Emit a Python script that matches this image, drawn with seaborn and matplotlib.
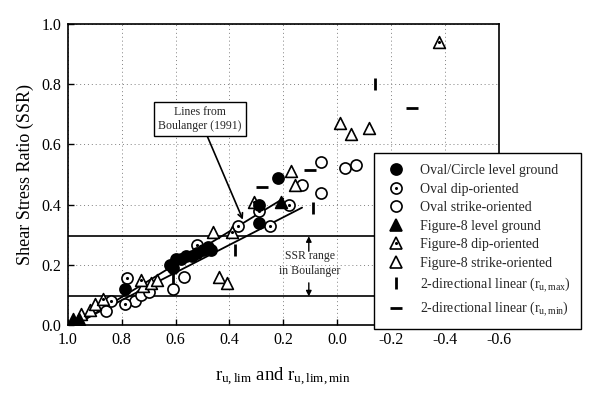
import matplotlib
matplotlib.use("Agg")
import matplotlib.pyplot as plt
import seaborn as sns
import pandas as pd
from matplotlib.lines import Line2D

# ---------------- data ----------------
oval_level_x = [0.79, 0.62, 0.61, 0.60, 0.58, 0.56, 0.54, 0.52, 0.50, 0.48, 0.47, 0.29, 0.29, 0.22]
oval_level_y = [0.12, 0.20, 0.19, 0.22, 0.22, 0.23, 0.23, 0.24, 0.25, 0.26, 0.25, 0.34, 0.40, 0.49]

oval_dip_x = [0.84, 0.79, 0.78, 0.52, 0.37, 0.29, 0.25, 0.18]
oval_dip_y = [0.08, 0.07, 0.155, 0.265, 0.33, 0.38, 0.33, 0.40]

oval_strike_x = [0.86, 0.75, 0.73, 0.70, 0.61, 0.57, 0.13, 0.06, 0.06, -0.03, -0.07]
oval_strike_y = [0.045, 0.08, 0.10, 0.11, 0.12, 0.16, 0.465, 0.54, 0.44, 0.52, 0.53]

fig8_level_x = [0.98, 0.96, 0.21]
fig8_level_y = [0.02, 0.02, 0.41]

fig8_dip_x = [0.87, 0.73, 0.39, 0.31, -0.38]
fig8_dip_y = [0.085, 0.15, 0.31, 0.41, 0.94]

fig8_strike_x = [0.95, 0.92, 0.90, 0.72, 0.69, 0.67, 0.46, 0.44, 0.41, 0.17, 0.155, -0.01, -0.05, -0.12]
fig8_strike_y = [0.035, 0.05, 0.07, 0.13, 0.14, 0.15, 0.31, 0.16, 0.14, 0.51, 0.465, 0.67, 0.635, 0.655]

lin_max_x = [0.61, 0.38, 0.09, -0.14]
lin_max_y = [0.155, 0.25, 0.39, 0.80]

lin_min_x = [0.28, 0.10, -0.28]
lin_min_y = [0.46, 0.515, 0.72]

boul_upper_x = [0.97, 0.20]
boul_upper_y = [0.0, 0.42]
boul_lower_x = [0.98, 0.13]
boul_lower_y = [0.0, 0.39]

ssr_range = [0.295, 0.095]

x_ticks = [1.0, 0.8, 0.6, 0.4, 0.2, 0.0, -0.2, -0.4, -0.6]
y_ticks = [0.0, 0.2, 0.4, 0.6, 0.8, 1.0]

legend_labels = [
    "Oval/Circle level ground",
    "Oval dip-oriented",
    "Oval strike-oriented",
    "Figure-8 level ground",
    "Figure-8 dip-oriented",
    "Figure-8 strike-oriented",
    r"2-directional linear ($\mathregular{r_{u,max}}$)",
    r"2-directional linear ($\mathregular{r_{u,min}}$)",
]

# ---------------- style ----------------
sns.set_theme(style="white")
plt.rcParams["font.family"] = ["Liberation Serif", "DejaVu Serif"]
plt.rcParams["mathtext.fontset"] = "stix"

fig = plt.figure(figsize=(5.91, 3.97), dpi=100)
ax = fig.add_axes([68 / 591, 1 - 325 / 397, (498.5 - 68) / 591, (325 - 24) / 397])

# grid
ax.set_xticks(x_ticks)
ax.set_yticks(y_ticks)
ax.grid(True, linestyle=(0, (1, 3)), color="0.5", linewidth=0.7)

# Boulanger range lines
for yv in ssr_range:
    ax.axhline(yv, color="black", lw=1.2, zorder=2)

# Boulanger trend lines
sns.lineplot(x=boul_upper_x, y=boul_upper_y, color="black", lw=1.3, sort=False, ax=ax, zorder=2)
sns.lineplot(x=boul_lower_x, y=boul_lower_y, color="black", lw=1.3, sort=False, ax=ax, zorder=2)

S = 64
EW = 1.2
def pts(x, y):
    return pd.DataFrame({"x": x, "y": y})

sns.scatterplot(data=pts(oval_strike_x, oval_strike_y), x="x", y="y", marker="o", s=S,
                color="white", edgecolor="black", linewidth=EW, ax=ax, zorder=3)
sns.scatterplot(data=pts(fig8_strike_x, fig8_strike_y), x="x", y="y", marker="^", s=S + 8,
                color="white", edgecolor="black", linewidth=EW, ax=ax, zorder=3)
sns.scatterplot(data=pts(oval_dip_x, oval_dip_y), x="x", y="y", marker="o", s=S,
                color="white", edgecolor="black", linewidth=EW, ax=ax, zorder=4)
sns.scatterplot(data=pts(oval_dip_x, oval_dip_y), x="x", y="y", marker="o", s=5,
                color="black", edgecolor="black", linewidth=0, ax=ax, zorder=4)
sns.scatterplot(data=pts(fig8_dip_x, fig8_dip_y), x="x", y="y", marker="^", s=S + 8,
                color="white", edgecolor="black", linewidth=EW, ax=ax, zorder=4)
sns.scatterplot(data=pts(fig8_dip_x, fig8_dip_y), x="x", y="y", marker="o", s=5,
                color="black", edgecolor="black", linewidth=0, ax=ax, zorder=4)
sns.scatterplot(data=pts(oval_level_x, oval_level_y), x="x", y="y", marker="o", s=S,
                color="black", edgecolor="black", linewidth=EW, ax=ax, zorder=5)
sns.scatterplot(data=pts(fig8_level_x, fig8_level_y), x="x", y="y", marker="^", s=S + 8,
                color="black", edgecolor="black", linewidth=EW, ax=ax, zorder=5)
sns.scatterplot(data=pts(lin_max_x, lin_max_y), x="x", y="y", marker="|", s=70,
                color="black", linewidth=2.0, ax=ax, zorder=5)
sns.scatterplot(data=pts(lin_min_x, lin_min_y), x="x", y="y", marker="_", s=70,
                color="black", linewidth=2.0, ax=ax, zorder=5)

# annotations
ax.annotate("Lines from\nBoulanger (1991)", xy=(0.35, 0.35), xytext=(0.51, 0.685),
            ha="center", va="center", fontsize=8.5, linespacing=1.2,
            bbox=dict(boxstyle="square,pad=0.35", fc="white", ec="black", lw=1.0),
            arrowprops=dict(arrowstyle="->", color="black", lw=1.2, shrinkA=0, shrinkB=0),
            zorder=6)
ax.text(0.10, 0.205, "SSR range\nin Boulanger", ha="center", va="center", fontsize=8.5,
        linespacing=1.3, zorder=6)
ax.annotate("", xy=(0.105, ssr_range[0]), xytext=(0.105, 0.245),
            arrowprops=dict(arrowstyle="-|>", color="black", lw=1.0, mutation_scale=8,
                            shrinkA=0, shrinkB=0))
ax.annotate("", xy=(0.105, ssr_range[1]), xytext=(0.105, 0.14),
            arrowprops=dict(arrowstyle="-|>", color="black", lw=1.0, mutation_scale=8,
                            shrinkA=0, shrinkB=0))

# axes
ax.set_xlim(1.0, -0.6)
ax.set_ylim(0.0, 1.0)
ax.set_xticklabels([f"{v:.1f}" for v in x_ticks])
ax.set_yticklabels([f"{v:.1f}" for v in y_ticks])
ax.tick_params(axis="both", which="both", direction="in", length=4, width=1,
               colors="black", labelsize=11.5, bottom=True, left=True, pad=5)
for sp in ax.spines.values():
    sp.set_color("black")
    sp.set_linewidth(1.2)
ax.set_ylabel("Shear Stress Ratio (SSR)", fontsize=13, color="black", labelpad=5)
ax.set_xlabel(r"$\mathregular{r_{u,lim}}$ and $\mathregular{r_{u,lim,min}}$",
              fontsize=13.5, color="black", labelpad=13)

# legend
ms = 8
def mk(marker, face, size=ms, mew=EW):
    return Line2D([], [], ls="none", marker=marker, markersize=size,
                  markerfacecolor=face, markeredgecolor="black", markeredgewidth=mew)
dot = Line2D([], [], ls="none", marker="o", markersize=2.2, markerfacecolor="black",
             markeredgecolor="black", markeredgewidth=0)
handles = [
    mk("o", "black"),
    (mk("o", "white"), dot),
    mk("o", "white"),
    mk("^", "black"),
    (mk("^", "white"), dot),
    mk("^", "white"),
    mk("|", "black", size=8.5, mew=2.0),
    mk("_", "black", size=8.5, mew=2.0),
]
leg = ax.legend(handles, legend_labels, loc="upper left",
                bbox_to_anchor=(374 / 591, 1 - 153 / 397), bbox_transform=fig.transFigure,
                borderaxespad=0, frameon=True, fancybox=False, framealpha=1,
                edgecolor="black", fontsize=10, handlelength=1.6, handletextpad=0.9,
                labelspacing=0.4, borderpad=0.8)
leg.get_frame().set_linewidth(1.0)
leg.set_zorder(10)

fig.savefig("out.png", dpi=100)
